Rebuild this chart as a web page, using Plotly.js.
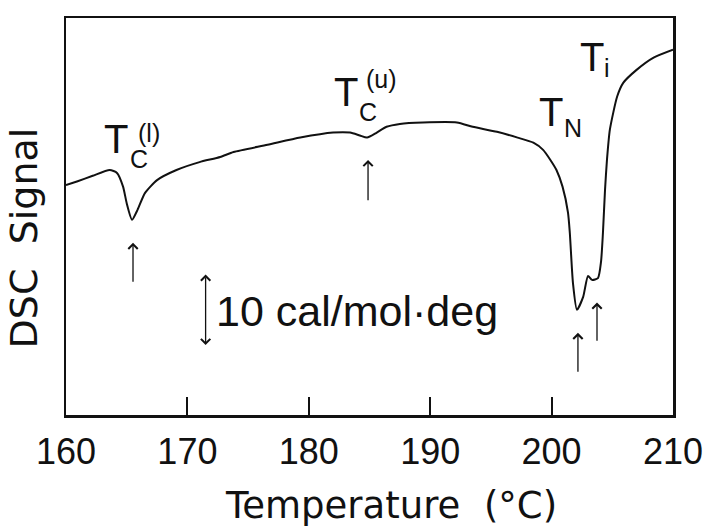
<!DOCTYPE html>
<html>
<head>
<meta charset="utf-8">
<script src="https://cdn.plot.ly/plotly-3.0.1.min.js"></script>
<style>
  html, body { margin: 0; padding: 0; background: #ffffff; }
  #chart { width: 703px; height: 527px; }
</style>
</head>
<body>
<div id="chart"></div>
<script>
// DSC heating trace: temperature (°C) vs. signal (cal/mol·deg, arbitrary offset)
const temperature = [
  160.0, 160.9, 162.2, 163.6, 164.2, 164.7, 165.0, 165.44, 165.9, 166.5,
  167.5, 169.1, 171.0, 172.7, 173.8, 176.6, 179.3, 182.0, 183.4, 184.2,
  184.8, 185.6, 186.4, 187.5, 189.4, 192.2, 193.5, 195.5, 197.2, 198.5,
  199.3, 199.9, 200.4, 200.9, 201.35, 201.5, 201.76, 202.09, 202.6, 203.0,
  203.33, 203.82, 204.07, 204.23, 204.4, 204.56, 204.8, 205.4, 205.9, 207.0,
  208.4, 210.0
];
const signal = [
  31.9, 32.4, 33.2, 34.0, 33.6, 31.7, 29.4, 27.1, 28.5, 30.8,
  32.6, 34.0, 35.1, 35.8, 36.5, 37.5, 38.5, 39.2, 39.2, 38.8,
  38.5, 39.2, 40.0, 40.4, 40.6, 40.6, 40.0, 39.3, 38.5, 37.8,
  36.8, 35.4, 34.0, 31.7, 28.1, 25.3, 18.3, 14.6, 16.4, 19.3,
  18.75, 19.0, 21.25, 25.3, 31.25, 35.4, 39.6, 44.2, 46.1, 47.9,
  49.6, 50.7
];

// Transition temperatures marked with arrows, and the arrow spans (signal units)
const transitionT    = [165.52, 184.88, 202.17, 203.74];
const arrowHeadY     = [23.9, 35.4, 11.4, 15.6];
const arrowTailY     = [18.3, 29.6, 5.8, 10.1];

// Scale bar: 10 cal/mol·deg
const scaleValue = 10;
const scaleBase  = 9.5;
const scaleT     = 171.5;
const scaleLabel = "10 cal/mol·deg";

const xTickVals = [160, 170, 180, 190, 200, 210];
const xTickText = ["160", "170", "180", "190", "200", "210"];

const FONT = "Liberation Sans, Arial, sans-serif";
const WIDE = "DejaVu Sans, Liberation Sans, sans-serif";
const INK = "#111111";

const trace = {
  x: temperature,
  y: signal,
  type: "scatter",
  mode: "lines",
  line: { color: INK, width: 2, shape: "spline", smoothing: 0.6 },
  hoverinfo: "skip",
  showlegend: false
};

const annotations = [];

// arrows under each transition
transitionT.forEach((t, i) => {
  annotations.push({
    x: t, y: arrowHeadY[i], xref: "x", yref: "y",
    ax: t, ay: arrowTailY[i], axref: "x", ayref: "y",
    text: "", showarrow: true,
    arrowhead: 4, arrowsize: 1.4, arrowwidth: 1.3, arrowcolor: INK, standoff: 0
  });
});

// scale bar (double-headed)
annotations.push({
  x: scaleT, y: scaleBase + scaleValue, xref: "x", yref: "y",
  ax: scaleT, ay: scaleBase, axref: "x", ayref: "y",
  text: "", showarrow: true, arrowside: "end+start",
  arrowhead: 4, startarrowhead: 4, arrowsize: 1.4, startarrowsize: 1.4,
  arrowwidth: 1.3, arrowcolor: INK, standoff: 0, startstandoff: 0
});
annotations.push({
  x: 172.2, y: scaleBase + scaleValue / 2, xref: "x", yref: "y",
  text: scaleLabel, showarrow: false, xanchor: "left", yanchor: "middle",
  font: { family: FONT, size: 43, color: INK }
});

// transition labels built from a large "T" plus stacked sub/superscripts
function label(xT, yT, sub, xs, ys, sup, xp, yp) {
  annotations.push({ x: xT, y: yT, xref: "x", yref: "y", text: "T", showarrow: false,
    font: { family: FONT, size: 40, color: INK } });
  if (sub) annotations.push({ x: xs, y: ys, xref: "x", yref: "y", text: sub, showarrow: false,
    font: { family: FONT, size: 25, color: INK } });
  if (sup) annotations.push({ x: xp, y: yp, xref: "x", yref: "y", text: sup, showarrow: false,
    font: { family: FONT, size: 25, color: INK } });
}
label(164.15, 38.3, "C", 166.05, 35.6, "(l)", 166.8, 39.2);
label(183.05, 44.8, "C", 184.85, 42.0, "(u)", 185.95, 46.6);
label(199.95, 42.0, "N", 201.75, 39.8, null);
label(203.35, 49.7, "i", 204.6, 48.2, null);

// axis titles
annotations.push({
  x: 0.535, y: -0.227, xref: "paper", yref: "paper",
  text: "Temperature  (°C)", showarrow: false, xanchor: "center", yanchor: "middle",
  font: { family: WIDE, size: 37, color: INK }
});
annotations.push({
  x: -0.07, y: 0.446, xref: "paper", yref: "paper",
  text: "DSC  Signal", showarrow: false, textangle: -90, xanchor: "center", yanchor: "middle",
  font: { family: WIDE, size: 38, color: INK }
});

const layout = {
  width: 703, height: 527,
  margin: { l: 66, r: 30, t: 18, b: 112 },
  paper_bgcolor: "#ffffff",
  plot_bgcolor: "#ffffff",
  showlegend: false,
  xaxis: {
    range: [160, 210],
    tickvals: xTickVals, ticktext: xTickText,
    ticks: "inside", ticklen: 18, tickwidth: 2, tickcolor: INK,
    ticklabelstandoff: 3,
    ticklabeloverflow: "allow",
    showline: true, mirror: true, linewidth: 2.5, linecolor: INK,
    showgrid: false, zeroline: false,
    tickfont: { family: FONT, size: 36, color: INK }
  },
  yaxis: {
    range: [0, 55.1],
    showticklabels: false, ticks: "",
    showline: true, mirror: true, linewidth: 2.5, linecolor: INK,
    showgrid: false, zeroline: false
  },
  annotations: annotations
};

Plotly.newPlot("chart", [trace], layout, { staticPlot: true, displayModeBar: false });
</script>
</body>
</html>
